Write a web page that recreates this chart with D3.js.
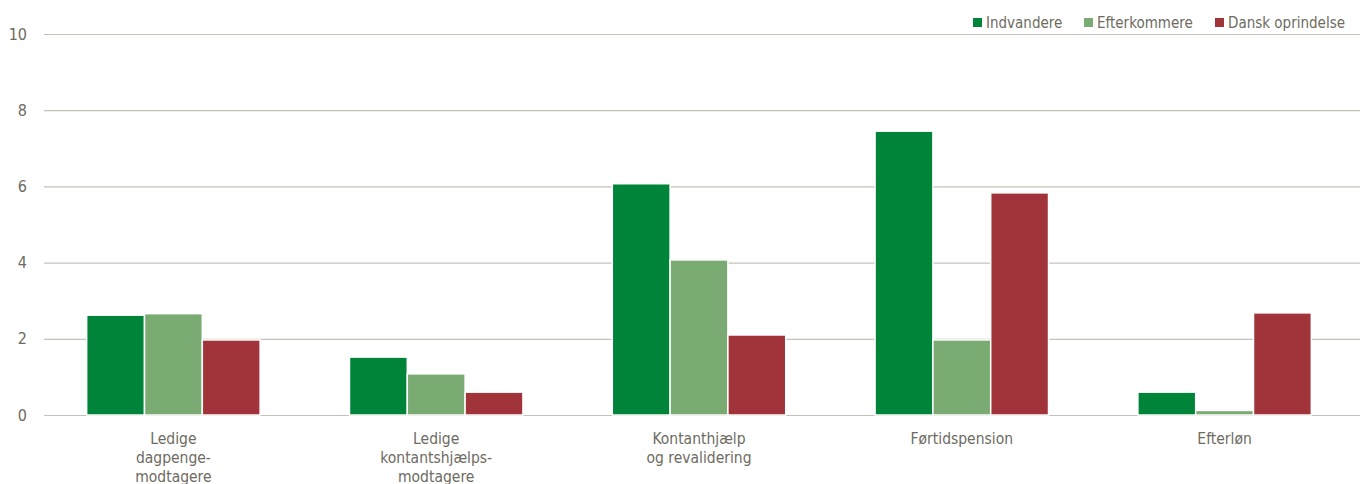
<!DOCTYPE html>
<html>
<head>
<meta charset="utf-8">
<script src="https://cdn.jsdelivr.net/npm/d3@7"></script>
<style>
    body { margin: 0; background: #fff; }
    text { font-family: "Liberation Sans Narrow", "Arial Narrow", "DejaVu Sans Condensed", sans-serif; fill: #6e6b5f; }
</style>
</head>
<body>
<svg id="chart" width="1360" height="484"></svg>
<script>
// data
var categories = [
    ["Ledige", "dagpenge-", "modtagere"],
    ["Ledige", "kontantshjælps-", "modtagere"],
    ["Kontanthjælp", "og revalidering"],
    ["Førtidspension"],
    ["Efterløn"]
]
var seriesNames = ["Indvandere", "Efterkommere", "Dansk oprindelse"]
var seriesColors = ["#00843a", "#79ab72", "#a0343a"]
var indvandere   = [2.62, 1.52, 6.07, 7.45, 0.6]
var efterkommere = [2.66, 1.08, 4.07, 1.97, 0.12]
var danskOprind  = [1.97, 0.6, 2.1, 5.83, 2.68]
var yTicks = [0, 2, 4, 6, 8, 10]

var allSeries = [indvandere, efterkommere, danskOprind]

var svg = d3.select("#chart")
var plotLeft = 44, plotRight = 1360, plotTop = 34, plotBottom = 415

var x0 = d3.scaleBand().domain(d3.range(categories.length)).range([42, 1356]).padding(0)
var bw = x0.bandwidth()
var x1 = d3.scaleBand().domain(d3.range(seriesNames.length)).range([bw * 0.17, bw * 0.83]).padding(0)
var y = d3.scaleLinear().domain([0, 10]).range([plotBottom, plotTop])

// gridlines
svg.append("g")
    .selectAll("line")
    .data(yTicks)
    .enter()
        .append("line")
        .attr("x1", plotLeft)
        .attr("x2", plotRight)
        .attr("y1", function(d){return y(d) + 0.5})
        .attr("y2", function(d){return y(d) + 0.5})
        .attr("stroke", "#c4c2b8")
        .attr("stroke-width", 1.2)

// y labels
svg.append("g")
    .selectAll("text")
    .data(yTicks)
    .enter()
        .append("text")
        .attr("x", 27)
        .attr("y", function(d){return y(d)})
        .attr("dy", "0.35em")
        .attr("text-anchor", "end")
        .attr("font-size", 16)
        .text(function(d){return d})

// bars
var groups = svg.append("g")
    .selectAll("g")
    .data(categories)
    .enter()
        .append("g")
        .attr("transform", function(d, i){return "translate(" + x0(i) + ",0)"})

groups.selectAll("rect")
    .data(function(d, i){return allSeries.map(function(s, j){return {s: j, v: s[i]}})})
    .enter()
        .append("rect")
        .attr("x", function(d){return x1(d.s)})
        .attr("width", x1.bandwidth())
        .attr("y", function(d){return y(d.v)})
        .attr("height", function(d){return y(0) - y(d.v)})
        .attr("fill", function(d){return seriesColors[d.s]})
        .attr("stroke", "#fff")
        .attr("stroke-width", 1.5)

// category labels
groups.append("text")
    .attr("x", bw / 2)
    .attr("y", 444)
    .attr("text-anchor", "middle")
    .attr("font-size", 15.5)
    .selectAll("tspan")
    .data(function(d){return d})
    .enter()
        .append("tspan")
        .attr("x", bw / 2)
        .attr("dy", function(d, i){return i == 0 ? 0 : 19})
        .text(function(d){return d})

// legend
var legendX = [973, 1084, 1215]
var legend = svg.append("g")
    .selectAll("g")
    .data(seriesNames)
    .enter()
        .append("g")
        .attr("transform", function(d, i){return "translate(" + legendX[i] + ",18)"})

legend.append("rect")
    .attr("width", 9)
    .attr("height", 9)
    .attr("fill", function(d, i){return seriesColors[i]})

legend.append("text")
    .attr("x", 13)
    .attr("y", 5)
    .attr("dy", "0.35em")
    .attr("font-size", 15)
    .text(function(d){return d})
</script>
</body>
</html>
